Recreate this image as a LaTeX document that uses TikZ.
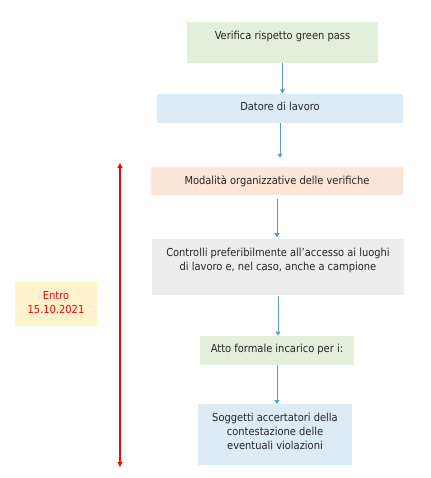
\documentclass[tikz,border=0pt]{standalone}
\usepackage{fontspec}
\setmainfont{DejaVu Sans Condensed}
\usetikzlibrary{positioning,arrows.meta}
\definecolor{boxgreen}{HTML}{E2EFDA}
\definecolor{boxblue}{HTML}{DDEBF7}
\definecolor{boxpeach}{HTML}{FCE4D6}
\definecolor{boxgrey}{HTML}{EDEDED}
\definecolor{boxyellow}{HTML}{FFF2CC}
\definecolor{arrowblue}{HTML}{5B9BD5}
\tikzset{
  stepbox/.style={rectangle,inner xsep=0pt,inner ysep=5pt,text height=12pt,align=center,
    font=\fontsize{11}{14}\selectfont,text=black!85},
  flow/.style={-{Triangle[length=4pt,width=5pt]},draw=arrowblue,line width=0.9pt},
  deadline/.style={{Triangle[length=5pt,width=5pt]}-{Triangle[length=5pt,width=5pt]},draw=red,line width=1.1pt}
}

\begin{document}
\begin{tikzpicture}[x=1pt,y=-1pt]
\useasboundingbox (0,0) rectangle (430,478);

\node[stepbox,fill=boxgreen,minimum width=191pt,text depth=19pt,anchor=north] (verif) at (282.5,22) {Verifica rispetto green pass};
\node[stepbox,fill=boxblue,minimum width=246pt,text depth=7pt,below=30pt of verif,xshift=-2.5pt] (datore) {Datore di lavoro};
\node[stepbox,fill=boxpeach,minimum width=252pt,text depth=6pt,below=44pt of datore,xshift=-3pt] (modal) {Modalità organizzative delle verifiche};
\node[stepbox,fill=boxgrey,minimum width=252pt,text height=26pt,text depth=20pt,below=44pt of modal,xshift=1pt] (contr) {Controlli preferibilmente all’accesso ai luoghi\\di lavoro e, nel caso, anche a campione};
\node[stepbox,fill=boxgreen,minimum width=154pt,text depth=7pt,below=40pt of contr,xshift=-1pt] (atto) {Atto formale incarico per i:};
\node[stepbox,fill=boxblue,minimum width=154pt,text height=40pt,text depth=11pt,below=39pt of atto,xshift=-2pt] (sogg) {Soggetti accertatori della\\contestazione delle\\eventuali violazioni};

\node[stepbox,fill=boxyellow,minimum width=82pt,text height=26pt,text depth=8pt,text=red,anchor=north] (entro) at (56,282) {Entro\\15.10.2021};

\coordinate (tstart) at (120,163);
\coordinate (tend) at (120,467);

\draw[flow] (verif.south) -- (verif.south |- datore.north);
\draw[flow,shorten >=9pt] (datore.south) -- (datore.south |- modal.north);
\draw[flow,shorten <=4pt,shorten >=2pt] (modal.south) -- (modal.south |- contr.north);
\draw[flow] (contr.south) -- (contr.south |- atto.north);
\draw[flow] (atto.south) -- (atto.south |- sogg.north);

\draw[deadline] (tstart) -- (tend);

\end{tikzpicture}
\end{document}
